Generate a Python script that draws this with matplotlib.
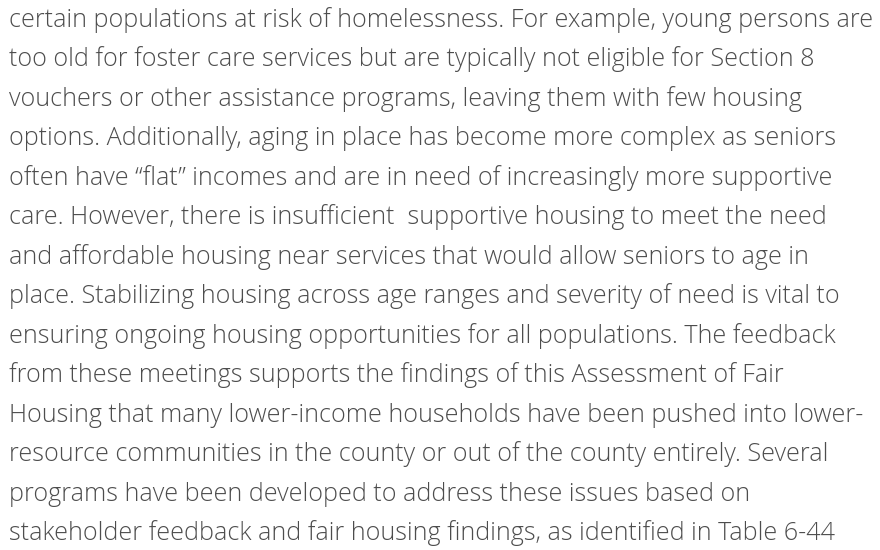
import matplotlib.pyplot as plt
from matplotlib import font_manager

# Lines of the paragraph, as they wrap in the picture
lines = [
    "certain populations at risk of homelessness. For example, young persons are",
    "too old for foster care services but are typically not eligible for Section 8",
    "vouchers or other assistance programs, leaving them with few housing",
    "options. Additionally, aging in place has become more complex as seniors",
    "often have \u201cflat\u201d incomes and are in need of increasingly more supportive",
    "care. However, there is insufficient  supportive housing to meet the need",
    "and affordable housing near services that would allow seniors to age in",
    "place. Stabilizing housing across age ranges and severity of need is vital to",
    "ensuring ongoing housing opportunities for all populations. The feedback",
    "from these meetings supports the findings of this Assessment of Fair",
    "Housing that many lower-income households have been pushed into lower-",
    "resource communities in the county or out of the county entirely. Several",
    "programs have been developed to address these issues based on",
    "stakeholder feedback and fair housing findings, as identified in Table 6-44",
]

# first and last baseline, in pixels
first_base = 27
last_base = 540
step = (last_base - first_base) / (len(lines) - 1)

# use a light, normal-width Open Sans face if one is installed
light = [f for f in font_manager.fontManager.ttflist
         if f.name.startswith("Open Sans") and f.weight in (300, "light")
         and f.style == "normal" and "ondensed" not in f.name
         and "ondensed" not in f.fname and f.stretch in (500, "normal")]
if light:
    prop = font_manager.FontProperties(fname=light[0].fname, size=18.1)
else:
    prop = font_manager.FontProperties(family="Open Sans", weight="light",
                                       stretch="normal", size=18.1)

fig = plt.figure(figsize=(8.8, 5.5), dpi=100)
ax = fig.add_axes([0, 0, 1, 1])
ax.set_xlim(0, 880)
ax.set_ylim(550, 0)
ax.axis("off")

for i, line in enumerate(lines):
    ax.text(9, first_base + i * step, line, fontproperties=prop,
            color="#4d4d4d", va="baseline", ha="left")

fig.savefig("out.png", dpi=100, facecolor="white")
